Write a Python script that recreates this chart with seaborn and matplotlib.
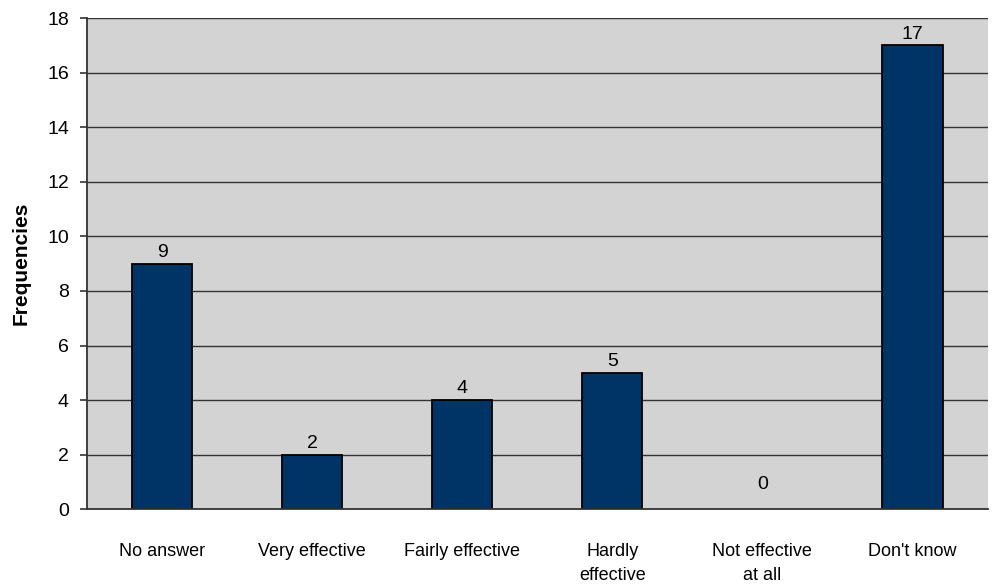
import numpy as np
import pandas as pd
import matplotlib
matplotlib.use("Agg")
import matplotlib.pyplot as plt
import seaborn as sns

# data
categories = ["No answer", "Very effective", "Fairly effective",
              "Hardly\neffective", "Not effective\nat all", "Don't know"]
frequencies = [9, 2, 4, 5, 0, 17]

df = pd.DataFrame({"answer": categories, "freq": frequencies})

sns.set_style("white")
plt.rcParams["font.family"] = ["Liberation Sans", "DejaVu Sans"]
plt.rcParams["text.color"] = "black"
plt.rcParams["xtick.color"] = "black"
plt.rcParams["ytick.color"] = "black"
plt.rcParams["axes.labelcolor"] = "black"

fig = plt.figure(figsize=(9.94, 5.84), dpi=100)
ax = fig.add_axes([0.0875, 0.128, 0.906, 0.841])
ax.set_facecolor("#D3D3D3")

sns.barplot(data=df, x="answer", y="freq", color="#003366",
            saturation=1, width=0.4, edgecolor="black", linewidth=1.3, ax=ax)

# zero bar shows no outline
for patch, v in zip(ax.patches, frequencies):
    if v == 0:
        patch.set_linewidth(0)

# horizontal grid lines
ax.set_ylim(0, 18)
ax.set_yticks(range(0, 19, 2))
ax.yaxis.grid(True, color="#333333", linewidth=1)
ax.set_axisbelow(True)

# value labels
for i, v in enumerate(frequencies):
    ax.annotate(str(v), (i, v), xytext=(0, 2 if v else 12),
                textcoords="offset points", ha="center", va="bottom", fontsize=14)

# ticks at category boundaries, labels at centres
ax.set_xlim(-0.5, len(categories) - 0.5)
ax.set_xticks(np.arange(-0.5, len(categories), 1.0))
ax.set_xticklabels([])
ax.set_xticks(range(len(categories)), minor=True)
ax.set_xticklabels(categories, minor=True, fontsize=13, linespacing=1.55)
ax.tick_params(axis="x", which="major", direction="out", length=5, width=1.2, color="#333333")
ax.tick_params(axis="x", which="minor", length=0, pad=24)
ax.tick_params(axis="y", direction="out", length=5, width=1.2, color="#333333",
               labelsize=14, pad=8, left=True)

for side in ["left", "bottom"]:
    ax.spines[side].set_color("#333333")
    ax.spines[side].set_linewidth(1.3)
for side in ["right", "top"]:
    ax.spines[side].set_visible(False)

ax.set_xlabel("")
ax.set_ylabel("Frequencies", fontsize=15, fontweight="bold", labelpad=12)

fig.savefig("out.png", dpi=100)
